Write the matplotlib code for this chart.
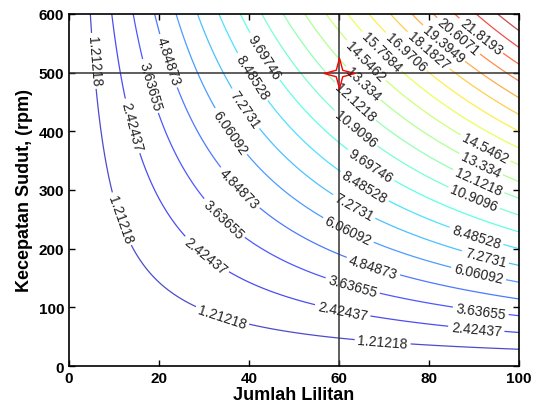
import numpy as np
import matplotlib
matplotlib.use("Agg")
import matplotlib.pyplot as plt
from matplotlib.path import Path

plt.rcParams['font.family'] = ['Liberation Sans', 'DejaVu Sans']

# axis ranges
lilitan = np.linspace(0, 100, 201)
rpm = np.linspace(0, 600, 241)

# contour levels (two more unlabelled ones in the corner)
levels = [1.21218, 2.42437, 3.63655, 4.84873, 6.06092, 7.2731, 8.48528,
          9.69746, 10.9096, 12.1218, 13.334, 14.5462, 15.7584, 16.9706,
          18.1827, 19.3949, 20.6071, 21.8193, 23.0315, 24.2437]
z_max = 25.4558  # value at (100 lilitan, 600 rpm)

# operating point marked with the star
titik_n = 60
titik_rpm = 500

# where the labels sit (lilitan, rpm)
label_pos = [
    (5.5, 520), (14.0, 409), (18.0, 477), (22.0, 520), (35.8, 399),
    (39.1, 438), (40.6, 492), (43.4, 527),
    (63.6, 404), (63.5, 450), (65.3, 481), (65.9, 520), (69.4, 535),
    (74.8, 535), (79.8, 537), (83.2, 549), (86.5, 562), (91.5, 562),
    (92.5, 371), (91.5, 343), (91.0, 314), (90.0, 286), (90.5, 221),
    (92.5, 185), (91.0, 157), (91.5, 94), (90.5, 63),
    (67.0, 341), (65.6, 305), (63.3, 271), (62.0, 230), (67.6, 169),
    (63.0, 136), (60.8, 94), (69.7, 41),
    (11.4, 250), (34.0, 83), (30.4, 188), (34.3, 250), (37.5, 300),
]

N, W = np.meshgrid(lilitan, rpm)
Z = z_max * N * W / (lilitan.max() * rpm.max())

fig = plt.figure(figsize=(5.34, 4.14), dpi=100)
ax = fig.add_axes([0.129, 0.1135, 0.843, 0.8503])

cs = ax.contour(N, W, Z, levels=levels, cmap='jet', vmin=0, vmax=z_max,
                linewidths=0.9, alpha=0.7)
ax.clabel(cs, levels=levels[:18], manual=label_pos, inline=True,
          inline_spacing=3, fontsize=10, colors='#222222',
          fmt=lambda v: '%g' % v)
for t in cs.labelTexts:
    t.set_alpha(1)

ax.axvline(titik_n, color='#333333', lw=1.1)
ax.axhline(titik_rpm, color='#333333', lw=1.1)

star = Path.unit_regular_star(4, 0.3)
ax.plot([titik_n], [titik_rpm], marker=star, markersize=22,
        markerfacecolor='none', markeredgecolor='red', markeredgewidth=1.0)

ax.set_xlim(0, 100)
ax.set_ylim(0, 600)
ax.set_xticks(range(0, 101, 20))
ax.set_yticks(range(0, 601, 100))
ax.tick_params(direction='in', top=True, right=True, length=4,
               labelsize=11, width=1)
for t in ax.get_xticklabels() + ax.get_yticklabels():
    t.set_fontweight('bold')
for s in ax.spines.values():
    s.set_linewidth(1.2)

ax.set_xlabel('Jumlah Lilitan', fontsize=13, fontweight='bold', labelpad=1)
ax.set_ylabel('Kecepatan Sudut, (rpm)', fontsize=13, fontweight='bold',
              labelpad=4)

fig.savefig('out.png', dpi=100)
